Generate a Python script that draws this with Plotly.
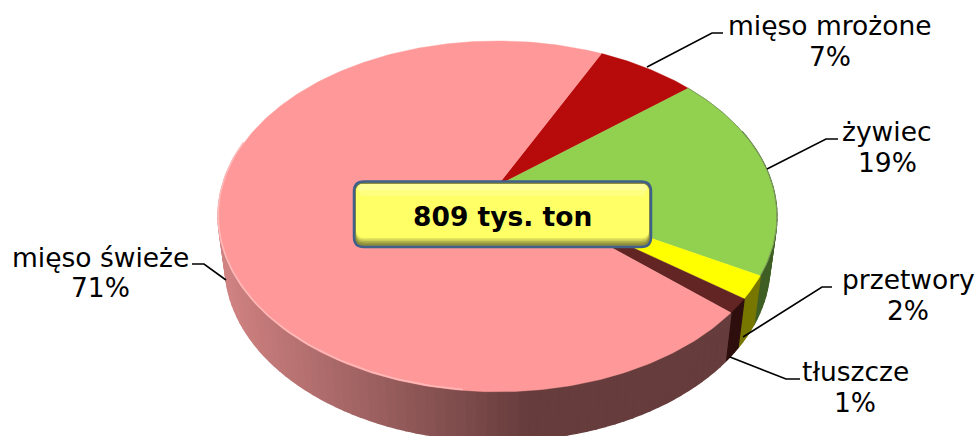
import numpy as np
import plotly.graph_objects as go

categories = ["mięso mrożone", "żywiec", "przetwory", "tłuszcze", "mięso świeże"]
values = [6.8, 19.05, 2.1, 1.33, 70.72]
percent_labels = ["7%", "19%", "2%", "1%", "71%"]
top_colors = ["#B70A0A", "#92D050", "#FFFF00", "#632523", "#FF9999"]
wall_colors = ["#5C0505", "#3F5F25", "#777700", "#2E0F0E", None]
center_text = "809 tys. ton"

W, H = 976, 436
CX, CY, A, B, K = 497.5, 185.5, 275.0, 170.0, 0.176
START_DEG, DEPTH, SHRINK = 26.0, 49.0, 0.975
WALL_FROM, WALL_TO = 72.0, 282.0
FONT = "DejaVu Sans"


def project(theta, lower=False):
    u, v = np.sin(theta), np.cos(theta)
    w = 1 + K * v
    x, y = A * u / w, CY - B * v / w
    if lower:
        return CX + x * SHRINK, y + DEPTH
    return CX + x, y


def pink_wall(x):
    t = float(np.clip((x - 225) / (530 - 225), 0, 1))
    a, b = np.array([208, 130, 130]), np.array([102, 60, 60])
    c = a + (b - a) * t
    return f"rgb({int(c[0])},{int(c[1])},{int(c[2])})"


fig = go.Figure()


def poly(xs, ys, color, lw=0.6):
    fig.add_trace(go.Scatter(x=list(xs), y=list(ys), mode="lines", fill="toself", fillcolor=color,
                             line=dict(color=color, width=lw), hoverinfo="skip", showlegend=False))


edges = START_DEG + np.concatenate([[0], np.cumsum(values)]) * 3.6
rad = np.radians(edges)

# side wall: only the part facing the viewer
for i, val in enumerate(values):
    n = max(3, int(val * 2))
    th = np.linspace(rad[i], rad[i + 1], n + 1)
    for t0, t1 in zip(th[:-1], th[1:]):
        if np.degrees(t1) < WALL_FROM or np.degrees(t0) > WALL_TO:
            continue
        x0, y0 = project(t0)
        x1, y1 = project(t1)
        x3, y3 = project(t0, True)
        x2, y2 = project(t1, True)
        color = wall_colors[i] or pink_wall((x0 + x1) / 2)
        poly([x0, x1, x2, x3, x0], [y0, y1, y2, y3, y0], color, lw=1.5)

# top faces
for i, val in enumerate(values):
    th = np.linspace(rad[i], rad[i + 1], max(6, int(val * 5)))
    x, y = project(th)
    poly(np.r_[CX, x, CX], np.r_[CY, y, CY], top_colors[i], lw=0.4)

# soft olive edge along the green slice
th = np.linspace(rad[1], rad[2], 60)
ex, ey = project(th)
fig.add_trace(go.Scatter(x=ex, y=ey, mode="lines", line=dict(color="#7D9C5C", width=1),
                         hoverinfo="skip", showlegend=False))

# rim highlight on the front of the largest slice
th = np.radians(np.linspace(186, 285, 80))
hx, hy = project(th)
fig.add_trace(go.Scatter(x=hx, y=hy - 1, mode="lines", line=dict(color="#FFB9B9", width=1.6),
                         hoverinfo="skip", showlegend=False))

# leader lines
leaders = [
    ([647, 712, 723], [67, 33, 33]),
    ([767, 826, 838], [169, 139, 139]),
    ([743, 822, 832], [337, 287, 287]),
    ([730, 786, 800], [357, 379, 379]),
    ([226, 204, 192], [280, 264, 264]),
]
for lx, ly in leaders:
    fig.add_trace(go.Scatter(x=lx, y=ly, mode="lines", line=dict(color="#000000", width=1.6),
                             hoverinfo="skip", showlegend=False))


def rrect(x0, y0, x1, y1, r):
    return (f"M{x0+r},{y0} L{x1-r},{y0} Q{x1},{y0} {x1},{y0+r} L{x1},{y1-r} Q{x1},{y1} {x1-r},{y1} "
            f"L{x0+r},{y1} Q{x0},{y1} {x0},{y1-r} L{x0},{y0+r} Q{x0},{y0} {x0+r},{y0} Z")


shapes = [dict(type="path", path=rrect(354, 181.5, 651, 247, 10), fillcolor="#8C8C3C",
               line=dict(color="#3F6088", width=2.5), xref="x", yref="y")]
bevel = [(244, "#9A9A40"), (242.5, "#B4B44C"), (241, "#CCCC55"), (239.5, "#E6E65E"), (238, "#FFFF66")]
for bottom, col in bevel:
    shapes.append(dict(type="path", path=rrect(356, 184, 649, bottom, 8), fillcolor=col,
                       line=dict(width=0), xref="x", yref="y"))
shapes.append(dict(type="path", path=rrect(358, 184, 647, 192, 4), fillcolor="#FFFF99",
                   line=dict(width=0), xref="x", yref="y"))
shapes.append(dict(type="path", path=rrect(360, 190, 645, 196, 3), fillcolor="#FFFF7F",
                   line=dict(width=0), xref="x", yref="y"))

label_pos = [(830, 25, 56), (887, 131, 162), (908, 279, 310), (855, 371, 402), (100, 257, 287)]
ann = []
for (px, y1, y2), c, p in zip(label_pos, categories, percent_labels):
    for yy, txt in ((y1, c), (y2, p)):
        ann.append(dict(x=px, y=yy, xref="x", yref="y", text=txt, showarrow=False, align="center",
                        font=dict(family=FONT, size=26.5, color="#000000")))
ann.append(dict(x=502, y=216, xref="x", yref="y", text=f"<b>{center_text}</b>", showarrow=False,
                font=dict(family=FONT, size=26.5, color="#000000")))

fig.update_layout(
    width=W, height=H, autosize=False, margin=dict(l=0, r=0, t=0, b=0),
    paper_bgcolor="#FFFFFF", plot_bgcolor="#FFFFFF", showlegend=False, shapes=shapes, annotations=ann,
    xaxis=dict(range=[0, W], visible=False, fixedrange=True),
    yaxis=dict(range=[H, 0], visible=False, fixedrange=True),
)
fig.write_html("out.html", config={"displayModeBar": False},
               post_script="document.body.style.margin='0';document.documentElement.style.overflow='hidden';")
